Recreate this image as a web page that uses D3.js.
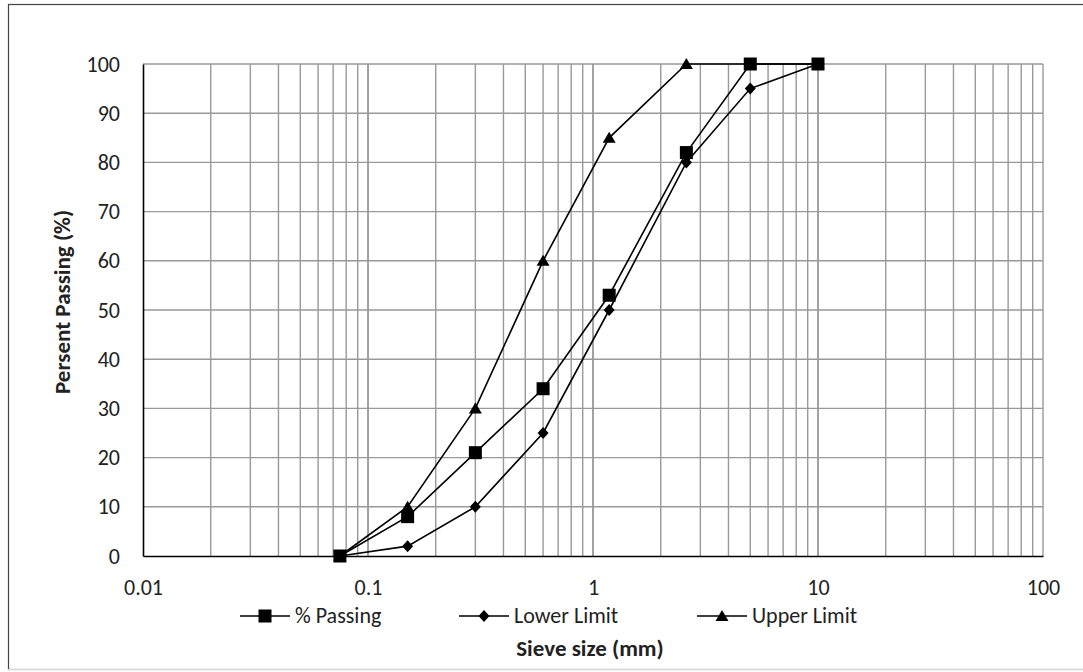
<!DOCTYPE html>
<html><head><meta charset="utf-8">
<script src="https://cdn.jsdelivr.net/npm/d3@7"></script>
<style>body{margin:0;background:#fff;}svg{display:block;font-family:Carlito,Lato,"Liberation Sans",sans-serif;}</style>
</head><body>
<svg id="c" width="1083" height="672"></svg>
<script>
const sieveSizes = [0.075, 0.15, 0.3, 0.6, 1.18, 2.6, 5, 10];
const passing    = [0, 8, 21, 34, 53, 82, 100, 100];
const lowerLimit = [0, 2, 10, 25, 50, 80, 95, 100];
const upperLimit = [0, 10, 30, 60, 85, 100, 100, 100];
const xTicks = [0.01, 0.1, 1, 10, 100];
const xTickLabels = ["0.01", "0.1", "1", "10", "100"];
const yTicks = [0,10,20,30,40,50,60,70,80,90,100];
const seriesNames = ["% Passing", "Lower Limit", "Upper Limit"];

const svg = d3.select("#c");
const L=143, R=1043, T=64, B=556;
const x = d3.scaleLog().domain([0.01,100]).range([L,R]);
const y = d3.scaleLinear().domain([0,100]).range([B,T]);
const FONT = "Carlito,Lato,sans-serif";

// outer border
svg.append("rect").attr("x",8.5).attr("y",4.5).attr("width",1090).attr("height",665)
  .attr("fill","none").attr("stroke","#444").attr("stroke-width",1.2);
svg.append("line").attr("x1",8).attr("x2",1083).attr("y1",669.5).attr("y2",669.5).attr("stroke","#ddd");

// grid
const minor=[];
for(let e=-2;e<2;e++){for(let m=1;m<=10;m++){minor.push(m*Math.pow(10,e));}}
const g = svg.append("g");
g.selectAll("line.v").data(minor.filter(v=>v>0.01)).enter().append("line")
  .attr("x1",d=>x(d)).attr("x2",d=>x(d)).attr("y1",T).attr("y2",B)
  .attr("stroke","#999").attr("stroke-width",1.4);
g.selectAll("line.h").data(yTicks.filter(v=>v>0)).enter().append("line")
  .attr("x1",L).attr("x2",R).attr("y1",d=>y(d)).attr("y2",d=>y(d))
  .attr("stroke","#999").attr("stroke-width",1.4);

// axes
const xAxis = d3.axisBottom(x).tickValues(xTicks).tickFormat((d,i)=>xTickLabels[i]).tickSize(0).tickPadding(23);
const xa = svg.append("g").attr("transform",`translate(0,${B})`).call(xAxis);
xa.select(".domain").attr("stroke","#000").attr("stroke-width",1.6);
xa.selectAll("text").attr("font-size",22).attr("fill","#222").attr("font-family",FONT);
const yAxis = d3.axisLeft(y).tickValues(yTicks).tickSize(0).tickPadding(23);
const ya = svg.append("g").attr("transform",`translate(${L},0)`).call(yAxis);
ya.select(".domain").attr("stroke","#000").attr("stroke-width",1.6);
ya.selectAll("text").attr("font-size",22).attr("fill","#222").attr("font-family",FONT);

// markers
function marker(sel, type){
  if(type==="square") sel.append("rect").attr("x",-6.5).attr("y",-6.5).attr("width",13).attr("height",13).attr("fill","#000");
  else if(type==="diamond") sel.append("path").attr("d","M0,-6L5.5,0L0,6L-5.5,0Z").attr("fill","#000");
  else sel.append("path").attr("d","M0,-6L6.5,5L-6.5,5Z").attr("fill","#000");
}
const series = [
  {name:seriesNames[2], vals:upperLimit, m:"triangle"},
  {name:seriesNames[1], vals:lowerLimit, m:"diamond"},
  {name:seriesNames[0], vals:passing, m:"square"}
];
const line = d3.line().x(d=>x(d[0])).y(d=>y(d[1]));
series.forEach(s=>{
  const pts = sieveSizes.map((v,i)=>[v,s.vals[i]]);
  svg.append("path").datum(pts).attr("d",line).attr("fill","none").attr("stroke","#000").attr("stroke-width",1.6);
  pts.forEach(p=>{ const gg=svg.append("g").attr("transform",`translate(${x(p[0])},${y(p[1])})`); marker(gg,s.m); });
});

// legend
const leg=[{n:seriesNames[0],m:"square",x:240},{n:seriesNames[1],m:"diamond",x:459},{n:seriesNames[2],m:"triangle",x:697}];
leg.forEach(l=>{
  const gy=616;
  svg.append("line").attr("x1",l.x).attr("x2",l.x+50).attr("y1",gy).attr("y2",gy).attr("stroke","#000").attr("stroke-width",1.6);
  const gg=svg.append("g").attr("transform",`translate(${l.x+25},${gy})`); marker(gg,l.m);
  svg.append("text").attr("x",l.x+55).attr("y",623).attr("font-size",22).attr("fill","#222").text(l.n);
});

// titles
svg.append("text").attr("x",590).attr("y",656).attr("text-anchor","middle")
  .attr("font-size",23).attr("font-weight","bold").attr("fill","#222").text("Sieve size (mm)");
svg.append("text").attr("transform",`translate(70,302) rotate(-90)`).attr("text-anchor","middle")
  .attr("font-size",23).attr("font-weight","bold").attr("fill","#222").text("Persent Passing (%)");
</script>
</body></html>
